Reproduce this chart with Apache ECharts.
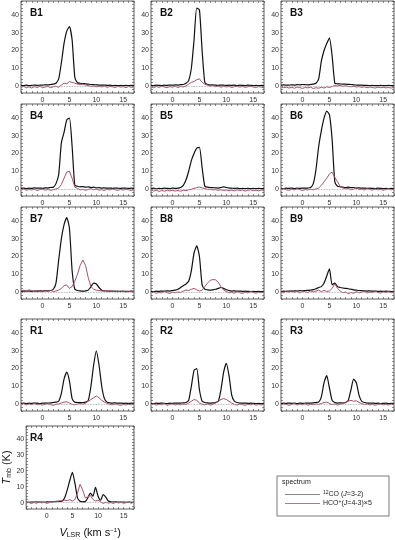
<!DOCTYPE html>
<html><head><meta charset="utf-8">
<script src="https://cdn.jsdelivr.net/npm/echarts@6/dist/echarts.min.js"></script>
<style>html,body{margin:0;padding:0;background:#fff}#c{width:395px;height:540px}</style>
</head><body><div id="c"></div>
<script>
// ---- DATA ----
const velocity = [-4,-3.5,-3,-2.5,-2,-1.5,-1,-0.5,0,0.5, 1,1.5,2,2.5,3,3.5,4,4.5,5,5.5, 6,6.5,7,7.5,8,8.5,9,9.5,10,10.5, 11,11.5,12,12.5,13,13.5,14,14.5,15,15.5, 16,16.5,17];
const panelNames = ['B1','B2','B3','B4','B5','B6','B7','B8','B9','R1','R2','R3','R4'];
const xTickLabels = [0,5,10,15];
const yTickLabels = [0,10,20,30,40];
const xTickMarks = [-4,-3,-2,-1,0,1,2,3,4,5,6,7,8,9,10,11,12,13,14,15,16,17];
const yTickMarks = [-4,-2,0,2,4,6,8,10,12,14,16,18,20,22,24,26,28,30,32,34,36,38,40,42,44,46,48];

const coB1 = [0.3,0.2,0.4,0.2,0.3,0.5,0.3,0.4,0.5,0.6, 0.6,0.8,1,1.5,4,13,24,31,33.5,26, 5,1.8,1.5,1.3,1.2,1,0.8,0.7,0.6,0.5, 0.4,0.5,0.3,0.4,0.2,0.3,0.2,0.3,0.2,0.3, 0.2,0.3,0.2];
const hcoB1 = [-0.8,-0.3,-1,-0.5,-1.2,-0.4,-0.9,-0.2,-1,-0.6, -0.3,-1,-0.5,-0.2,-0.8,0.5,1.5,1.2,2.5,2, 1.5,1,0.8,1,0.5,0.2,-0.3,0,-0.5,-0.2, -0.6,-0.1,-0.8,-0.3,-0.5,-0.9,-0.2,-0.7,-0.4,-1, -0.3,-0.8,-0.5];
const coB2 = [0.3,0.2,0.4,0.3,0.2,0.4,0.3,0.5,0.4,0.6, 0.5,0.7,0.8,1.5,3,10,26,44,43,20, 2,0.8,0.5,0.6,0.4,0.3,0.5,0.4,0.3,0.4, 0.3,0.5,0.2,0.4,0.3,0.2,0.4,0.3,0.2,0.3, 0.2,0.3,0.2];
const hcoB2 = [-0.5,-1,-0.3,-0.8,-0.2,-0.6,-1,-0.4,-0.7,-0.2, -0.9,-0.3,-0.6,0,1,2,2.5,3.5,4,2, 1,0.5,-0.2,0.3,-0.5,0,-0.8,-0.2,-0.6,-0.3, -0.9,-0.4,-0.2,-0.7,-0.3,-0.8,-0.5,-0.1,-0.6,-0.9, -0.4,-0.7,-1];
const coB3 = [0.5,0.6,0.4,0.5,0.6,0.5,0.7,0.6,0.8,0.7, 0.6,0.8,1,1.5,4,14,20,24,27,17, 1.5,1.2,1.1,1,1,0.9,0.8,0.6,0.5,0.4, 0.4,0.3,0.3,0.2,0.3,0.2,0.2,0.3,0.2,0.2, 0.3,0.2,0.2];
const hcoB3 = [-0.5,-1,-0.7,-1.2,-0.8,-1.3,-0.6,-1,-1.4,-0.9, -1.1,-0.7,-1.5,-1,-1.3,-0.8,-1.2,-0.5,-0.9,-0.3, 0.2,0,0.3,-0.2,0.1,-0.3,-0.5,-0.2,-0.6,-0.4, -0.8,-0.5,-1,-0.6,-0.9,-1.2,-0.7,-1,-0.8,-1.1, -0.9,-1.2,-0.8];
const coB4 = [0.3,0.5,0.2,0.4,0.3,0.6,0.4,0.5,0.3,0.6, 0.5,0.8,1,3,8,26,32,39,40,24, 2,1.5,1.2,1.3,1,1.2,0.8,1,0.6,0.7, 0.5,0.6,0.4,0.5,0.3,0.5,0.4,0.3,0.5,0.4, 0.3,0.4,0.3];
const hcoB4 = [-0.5,0,-0.8,-0.3,-0.6,-0.2,-0.9,-0.4,-0.1,-0.7, -0.3,-0.8,-0.5,0,0.5,2.5,6,9.5,10,6, 1,0.3,-0.5,-0.2,-0.8,-0.3,0.2,-0.5,-0.1,-0.7, -0.4,-0.9,-0.2,-0.6,0,-0.5,-0.8,-0.3,-0.6,-0.2, -0.5,-0.9,-0.4];
const coB5 = [0.2,0.4,0.1,0.3,0.2,0.4,0.3,0.2,0.5,0.3, 0.4,0.8,2,5,10,16,20,23,23.5,12, 1.5,1,0.8,0.7,0.6,0.5,0.8,1.2,0.8,0.5, 0.4,0.3,0.4,0.2,0.3,0.2,0.3,0.2,0.3,0.2, 0.3,0.2,0.3];
const hcoB5 = [-0.6,-1.2,-0.8,-1.4,-0.9,-1.3,-0.7,-1.1,-0.8,-1.2, -0.9,-1.3,-0.7,-1,-0.5,-0.2,0.3,0.8,1,0.6, 0.2,-0.3,-0.1,-0.6,-0.4,-0.8,-0.5,-0.9,-0.6,-1, -0.7,-1.1,-0.5,-0.9,-0.6,-1.2,-0.8,-0.5,-1,-0.7, -1.1,-0.6,-0.9];
const coB6 = [0.3,0.2,0.4,0.3,0.5,0.2,0.4,0.3,0.5,0.4, 0.5,0.8,3,11,24,33,40,44,42,28, 4,1.5,1.2,1,0.8,1,0.7,0.8,0.5,0.6, 0.4,0.5,0.3,0.4,0.3,0.2,0.4,0.3,0.2,0.3, 0.2,0.3,0.2];
const hcoB6 = [-0.3,0.2,-0.5,-0.8,-0.2,-0.6,0.1,-0.4,-0.9,-0.3, -0.6,-0.2,-0.5,0,0.5,2,4,6,8.5,9.5, 6.5,4,1.5,0.5,0,0.3,-0.5,-0.2,0.8,-0.4, -0.1,-0.6,0.2,-0.3,-0.7,0,-0.5,-0.2,-0.8,-0.3, 0.1,-0.5,-0.2];
const coB7 = [0.3,0.5,0.4,0.6,0.3,0.5,0.4,0.6,0.5,0.7, 0.6,0.8,1.5,5,18,30,38,42,36,12, 1.5,0.8,0.6,0.5,0.6,1,3,5,4.5,2.5, 1,0.6,0.5,0.4,0.5,0.3,0.4,0.3,0.4,0.3, 0.3,0.4,0.3];
const hcoB7 = [0.5,1,0.3,1.2,0.6,0.2,0.9,0.4,0.1,0.6, 0.3,0.8,0.2,0.5,1,2,3.5,4,2,3, 6,10,15,18,15,8,3,1.5,1,0.8, 0.5,0.8,0.3,0.6,0.2,0.5,0.1,0.4,0.3,0, 0.2,0.4,0.1];
const coB8 = [0.3,0.2,0.4,0.3,0.5,0.4,0.6,0.5,0.8,1, 1.5,2.5,3.5,4.5,6,12,22,26,20,4, 1.5,1.2,1,1.2,1.5,2,2.5,2,1.2,0.8, 0.5,0.6,0.4,0.5,0.3,0.4,0.3,0.2,0.3,0.2, 0.3,0.2,0.3];
const hcoB8 = [-0.5,0,-0.8,-0.2,-0.6,0.3,-0.4,-0.9,-0.1,-0.5, 0,-0.3,0.5,1,0.8,1.5,2,1.2,0.5,1, 3,5,6.5,7,6.8,5.5,3,1,0.3,-0.5, -0.2,-0.8,0.2,-0.4,-0.9,-0.1,-0.6,0.3,-0.3,-0.7, -0.2,-0.5,0];
const coB9 = [0.2,0.4,0.3,0.5,0.4,0.6,0.5,0.7,0.6,0.8, 0.9,1,1.3,1.8,2.5,3,5,9,13,4, 5,3,2.5,2.2,2,1.8,1.5,1.2,1,0.8, 0.7,0.6,0.5,0.6,0.4,0.5,0.3,0.4,0.3,0.4, 0.3,0.2,0.3];
const hcoB9 = [0.2,-0.5,0.5,-0.2,0.8,-0.3,0.4,-0.6,0.3,0.1, -0.4,0.6,0,0.5,1,0.2,0.8,0.3,0.5,2, 4.5,2,0.5,-0.5,0,-1,-0.3,-0.8,0.2,-0.5, -0.2,0.4,-0.6,0,-0.4,0.3,-0.2,-0.7,0.1,-0.3, 0.2,-0.4,0];
const coR1 = [0.3,0.5,0.2,0.4,0.3,0.5,0.4,0.2,0.5,0.4, 0.5,0.6,0.8,1,1.5,6,14,18,13,3, 1,0.8,0.7,0.8,1,2,10,22,30,22, 10,3,1,0.6,0.5,0.6,0.4,0.5,0.3,0.4, 0.3,0.4,0.3];
const hcoR1 = [-0.3,0.2,-0.6,0,-0.4,0.3,-0.5,-0.1,-0.7,-0.2, 0.1,-0.4,-0.8,-0.2,0,0.5,1,1.2,0.5,-0.3, -0.5,0,0.3,-0.2,0.5,1.5,2.5,3.5,4.5,3.5, 2,1,0.3,-0.2,-0.5,0,-0.4,-0.8,-0.3,-0.6, -0.2,-0.5,-0.1];
const coR2 = [0.3,0.2,0.4,0.3,0.5,0.3,0.2,0.4,0.3,0.5, 0.4,0.5,0.6,0.8,2,10,19,20,8,1.5, 0.8,0.6,0.5,0.6,0.8,1.5,8,18,23,16, 5,1.5,0.8,0.5,0.4,0.5,0.3,0.4,0.3,0.2, 0.3,0.2,0.3];
const hcoR2 = [-0.4,0.1,-0.7,-0.2,-0.5,0.2,-0.8,-0.3,0,-0.6, -0.2,-0.5,0,-0.3,0.5,1.5,2.5,2,0.5,-0.2, -0.5,0,-0.7,-0.2,0.5,1.5,2.5,3,2.5,1.5, 0.5,-0.3,-0.6,0,-0.4,-0.8,-0.2,-0.5,0,-0.7, -0.3,-0.6,-0.2];
const coR3 = [0.2,0.4,0.3,0.5,0.3,0.4,0.2,0.5,0.3,0.4, 0.5,0.4,0.6,0.8,1,4,12,16,9,2, 0.8,0.5,0.6,0.5,0.8,2,8,14,12,5, 1.5,0.8,0.5,0.4,0.5,0.3,0.4,0.2,0.3,0.4, 0.2,0.3,0.2];
const hcoR3 = [-0.5,0,-0.3,-0.8,-0.2,0.2,-0.6,-0.1,-0.4,0.1, -0.7,-0.2,-0.5,0,-0.3,0.3,0.8,1,0.3,-0.4, 0,-0.6,-0.2,0.3,0.8,1.5,2,1.5,1.8,0.8, 0.2,-0.4,0,-0.6,-0.2,-0.8,-0.3,0.1,-0.5,-0.2, -0.6,-0.1,-0.4];
const coR4 = [0.3,0.2,0.4,0.3,0.5,0.3,0.4,0.2,0.5,0.4, 0.5,0.6,0.8,0.7,1,3,8,14,19,12, 3,0.8,0.5,0.6,3,6,4,9.5,4,1.5, 5,3.5,1,0.5,0.4,0.5,0.3,0.4,0.3,0.2, 0.3,0.2,0.3];
const hcoR4 = [-0.3,0.2,-0.6,0.1,-0.4,0.5,-0.2,0.3,-0.5,0, 0.4,0.8,0.5,1.2,1,1.5,1.2,1.8,1,2, 6,11.5,8,3,3.5,4.5,2,1,1.5,0.5, -0.5,0.2,-0.3,0,-0.5,0.3,-0.2,0.1,-0.4,0, 0.2,-0.3,0.1];

const coSets = [coB1,coB2,coB3,coB4,coB5,coB6,coB7,coB8,coB9,coR1,coR2,coR3,coR4];
const hcoSets = [hcoB1,hcoB2,hcoB3,hcoB4,hcoB5,hcoB6,hcoB7,hcoB8,hcoB9,hcoR1,hcoR2,hcoR3,hcoR4];

// ---- LAYOUT ----
const colLeft = [21,151,281];
const rowTop = [1,104,207,319,426];
const panelW = 113, panelH = 92;
const CO_COLOR = '#111111', HCO_COLOR = '#a84f70';
const FONT = 'Liberation Sans, Arial, sans-serif';

const chart = echarts.init(document.getElementById('c'), null, {renderer:'canvas'});
const grid = [], xAxis = [], yAxis = [], series = [], title = [];
const pair = a => a.map((t,i)=>[velocity[i], t]);
const tickStyle = {color:'#444', width:0.6};

panelNames.forEach((name, i) => {
  const r = Math.floor(i/3), c = i%3;
  grid.push({left: colLeft[c], top: rowTop[r], width: panelW, height: panelH,
    show: true, borderColor: '#333', borderWidth: 0.8, containLabel: false});
  const isLast = name === 'R4';
  xAxis.push({type:'value', gridIndex:i, min:-4, max:17, position:'bottom',
    axisLine:{show:false, onZero:false}, splitLine:{show:false},
    axisTick:{show:true, inside:true, length:2, customValues:xTickMarks, lineStyle:tickStyle},
    axisLabel:{customValues:xTickLabels, fontSize:7, color:'#333', margin:4, fontFamily:FONT},
    name: isLast ? '{i|V}{s|LSR} (km s{p|−1})' : '', nameLocation:'middle', nameGap:18,
    nameTextStyle:{fontSize:11, color:'#111', fontFamily:FONT, padding:[0,0,0,20],
      rich:{i:{fontStyle:'italic', fontSize:11, fontFamily:FONT}, s:{fontSize:7, padding:[5,0,0,0], fontFamily:FONT}, p:{fontSize:6, padding:[0,0,6,0], fontFamily:FONT}}}
  });
  xAxis.push({type:'value', gridIndex:i, min:-4, max:17, position:'top',
    axisLine:{show:false, onZero:false}, splitLine:{show:false},
    axisTick:{show:true, inside:true, length:2, customValues:xTickMarks, lineStyle:tickStyle},
    axisLabel:{show:false}});
  yAxis.push({type:'value', gridIndex:i, min:-4, max:48, position:'left',
    axisLine:{show:false, onZero:false}, splitLine:{show:false},
    axisTick:{show:true, inside:true, length:2, customValues:yTickMarks, lineStyle:tickStyle},
    axisLabel:{customValues:yTickLabels, fontSize:7, color:'#333', margin:2, fontFamily:FONT},
    name: isLast ? '{i|T}{s|mb} (K)' : '', nameLocation:'middle', nameRotate:90, nameGap:12,
    nameTextStyle:{fontSize:11, color:'#111', fontFamily:FONT,
      rich:{i:{fontStyle:'italic', fontSize:11, fontFamily:FONT}, s:{fontSize:7, padding:[5,0,0,0], fontFamily:FONT}}}
  });
  yAxis.push({type:'value', gridIndex:i, min:-4, max:48, position:'right',
    axisLine:{show:false, onZero:false}, splitLine:{show:false},
    axisTick:{show:true, inside:true, length:2, customValues:yTickMarks, lineStyle:tickStyle},
    axisLabel:{show:false}});
  series.push({name:'co', type:'line', xAxisIndex:2*i, yAxisIndex:2*i, data:pair(coSets[i]),
    showSymbol:false, symbol:'none', silent:true, animation:false, smooth:0.2,
    lineStyle:{color:CO_COLOR, width:1.2}, itemStyle:{color:CO_COLOR}, z:3});
  series.push({name:'hco', type:'line', xAxisIndex:2*i, yAxisIndex:2*i, data:pair(hcoSets[i]),
    showSymbol:false, symbol:'none', silent:true, animation:false,
    lineStyle:{color:HCO_COLOR, width:1}, itemStyle:{color:HCO_COLOR}, z:4,
    markLine:{silent:true, symbol:['none','none'], label:{show:false},
      lineStyle:{color:'#999', type:'dotted', width:0.8}, data:[{yAxis:0}], animation:false}});
  title.push({text:name, left: colLeft[c]+9, top: rowTop[r]+7, padding:0,
    textStyle:{fontSize:10, fontWeight:'bold', color:'#111', fontFamily:FONT}});
});

const option = {
  animation:false,
  backgroundColor:'#fff',
  title, grid, xAxis, yAxis, series,
  graphic:[
    {type:'rect', shape:{x:277, y:476, width:112, height:40}, style:{fill:'none', stroke:'#555', lineWidth:0.8}, silent:true},
    {type:'text', x:282, y:479, style:{text:'spectrum', fontSize:7, fill:'#222', fontFamily:FONT}, silent:true},
    {type:'line', shape:{x1:285, y1:494.5, x2:320, y2:494.5}, style:{stroke:'#888888', lineWidth:1}, silent:true},
    {type:'line', shape:{x1:285, y1:503.5, x2:320, y2:503.5}, style:{stroke:'#c0708e', lineWidth:1.2}, silent:true},
    {type:'text', x:323, y:490, style:{text:'{s|12}CO ({i|J}=3-2)', fontSize:7, fill:'#222', fontFamily:FONT,
      rich:{s:{fontSize:5, padding:[0,0,3,0], fontFamily:FONT, fill:'#222'}, i:{fontStyle:'italic', fontSize:7, fontFamily:FONT, fill:'#222'}}}, silent:true},
    {type:'text', x:323, y:499, style:{text:'HCO{s|+}({i|J}=4-3)×5', fontSize:7, fill:'#222', fontFamily:FONT,
      rich:{s:{fontSize:5, padding:[0,0,3,0], fontFamily:FONT, fill:'#222'}, i:{fontStyle:'italic', fontSize:7, fontFamily:FONT, fill:'#222'}}}, silent:true}
  ]
};
chart.setOption(option);
</script>
</body></html>
